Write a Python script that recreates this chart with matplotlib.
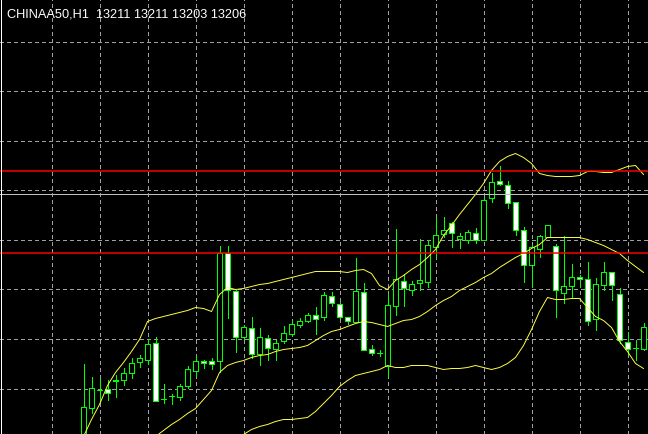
import numpy as np
import matplotlib
matplotlib.use("Agg")
import matplotlib.pyplot as plt

nan = np.nan

title = "CHINAA50,H1  13211 13211 13203 13206"

opens = [13080.5, 13099, 13108, 13108.5, 13112.5, 13113, 13116.5, 13122, 13123, 13131.5,
         13103.5, 13105, 13104.5, 13110, 13117.5, 13122.5, 13122.5, 13122.5, 13176.5, 13157.5,
         13134.5, 13139, 13126, 13134, 13128.5, 13132.5, 13136, 13140.5, 13142.5, 13145.5,
         13144.5, 13155, 13151, 13144.5, 13142, 13157, 13128.5, 13126.5, 13120, 13150,
         13162.5, 13158, 13161.5, 13162, 13179.5, 13186, 13191.5, 13183.5, 13183, 13186.5,
         13183, 13204, 13212.5, 13210.5, 13202, 13188, 13170.5, 13178.5, 13184.5, 13180,
         13156.5, 13160, 13164.5, 13163.5, 13143.5, 13160.5, 13167, 13156, 13132, 13129, 13128.5]

closes = [13099.5, 13109, 13108, 13106.5, 13113, 13116.5, 13121.5, 13124, 13131, 13102.5,
          13103.5, 13105, 13110, 13118.5, 13122.5, 13121.5, 13121, 13176.5, 13158, 13134.5,
          13139.5, 13126, 13134.5, 13129, 13131.5, 13136.5, 13141, 13142.5, 13145.5, 13143.5,
          13155.5, 13151.5, 13144.5, 13142.5, 13157.5, 13128, 13126.5, 13126.5, 13150.5, 13163.5,
          13159, 13161, 13163, 13180.5, 13185.5, 13188, 13186.5, 13185, 13187, 13183,
          13203, 13212, 13211, 13201.5, 13188, 13170.5, 13179.5, 13185, 13190.5, 13158,
          13160, 13164.5, 13163.5, 13142.5, 13161, 13167, 13160.5, 13133, 13128.5, 13129, 13139.5]

highs = [13121, 13114.5, 13113.5, 13113, 13115.5, 13119, 13124, 13125.5, 13133.5, 13134.5,
         13111, 13106, 13111, 13120, 13125, 13123, 13124, 13180, 13180, 13158,
         13140.5, 13144.5, 13139, 13135.5, 13133, 13140, 13142.5, 13144, 13146.5, 13149.5,
         13157, 13157, 13152, 13144.5, 13174, 13161.5, 13130.5, 13128, 13156.5, 13188.5,
         13166, 13162.5, 13183.5, 13183, 13194, 13194.5, 13192, 13186.5, 13188, 13189,
         13204.5, 13216.5, 13220, 13212.5, 13202, 13189.5, 13180.5, 13185.5, 13190.5, 13181,
         13185, 13171, 13165.5, 13172, 13164, 13172, 13167, 13159, 13137, 13133, 13141.5]

lows = [13077, 13096.5, 13102, 13103, 13104.5, 13110.5, 13114, 13119.5, 13121, 13102.5,
        13101.5, 13101, 13103, 13109, 13115, 13119, 13118.5, 13117, 13144, 13127,
        13133.5, 13124, 13120.5, 13123, 13123, 13131.5, 13135, 13139.5, 13142, 13136,
        13143, 13150, 13144, 13141, 13142, 13128, 13125.5, 13125, 13114.5, 13145.5,
        13150, 13155.5, 13158, 13159.5, 13174.5, 13184.5, 13179.5, 13179, 13181.5, 13181.5,
        13183, 13202, 13210.5, 13199, 13185.5, 13162, 13159.5, 13174.5, 13184.5, 13144.5,
        13151.5, 13154.5, 13159.5, 13140.5, 13138, 13158, 13153, 13131.5, 13125.5, 13123, 13128]

bb_upper = [13084.5, 13093, 13100.5, 13110, 13116.5, 13121.5, 13127, 13133, 13142, 13143.5,
            13144.5, 13145.5, 13146.5, 13147.5, 13149, 13148.5, 13147, 13155.5, 13159, 13158,
            13158.5, 13159.5, 13160.5, 13161, 13162, 13163, 13164, 13165, 13166, 13167,
            13167, 13167, 13167, 13166.5, 13167.5, 13168, 13166, 13160, 13158, 13162.5,
            13165, 13168, 13170.5, 13174, 13178, 13185, 13190, 13195.5, 13200.5, 13205.5,
            13211, 13217.5, 13222, 13224.5, 13226, 13224, 13221, 13216, 13215, 13214.5,
            13214.5, 13214.5, 13215, 13217, 13217, 13216.5, 13216.5, 13218, 13219.5, 13220, 13215.5]

bb_middle = [nan, nan, nan, nan, nan, nan, nan, 13079.5, 13082, 13084.5,
             13087.5, 13090.5, 13093, 13096, 13098.5, 13103, 13107.5, 13116.5, 13120, 13121.5,
             13122.5, 13124, 13125, 13125.5, 13127, 13128, 13128.5, 13129, 13130, 13132.5,
             13135, 13137, 13138, 13139.5, 13141, 13142, 13141.5, 13140.5, 13139.5, 13141,
             13142.5, 13143, 13144.5, 13147, 13150, 13152.5, 13154.5, 13157.5, 13159.5, 13161.5,
             13164, 13166, 13169, 13171.5, 13174, 13176, 13178.5, 13180.5, 13184, 13184,
             13184, 13184, 13184, 13183, 13181.5, 13180, 13178, 13176, 13172.5, 13169.5, 13166.5]

bb_lower = [nan, nan, nan, nan, nan, nan, nan, nan, nan, nan,
            nan, nan, nan, nan, nan, nan, nan, nan, nan, 13082.5,
            13085.5, 13088, 13089.5, 13090.5, 13092, 13093, 13093, 13093.5, 13094, 13097,
            13101, 13105, 13109.5, 13112.5, 13115, 13116, 13117, 13118, 13120, 13119,
            13119, 13120, 13120, 13120, 13119, 13118, 13118.5, 13118.5, 13119, 13120,
            13119, 13118, 13119, 13121, 13124, 13130, 13138, 13147, 13154, 13153,
            13153, 13153.5, 13153.5, 13149, 13144.5, 13142.5, 13139, 13132, 13127, 13121, 13118.5]

red_levels = [13217.5, 13176.5]
bid_level = 13206
grid_levels = [13282, 13257.5, 13232.5, 13208, 13183, 13158.5, 13133.5, 13108.5]

W, H = 648, 435
DPI = 100
fig = plt.figure(figsize=(W / DPI, H / DPI), dpi=DPI, facecolor="black")
ax = fig.add_axes([0, 0, 1, 1])
ax.set_facecolor("black")
for s in ax.spines.values():
    s.set_visible(False)
ax.set_xticks([])
ax.set_yticks([])

n = len(opens)
x = np.arange(n)
px_per_bar = 8.0
first_px = 83.5
ax.set_xlim(-first_px / px_per_bar, (W - first_px) / px_per_bar)
ax.set_ylim(13303.25 - H / 2.0, 13303.25)

onepx = 72.0 / DPI
grid_col = "#a0a0a0"
for lv in grid_levels:
    ax.axhline(lv, color=grid_col, lw=onepx, ls=(0, (4, 3)), zorder=1, antialiased=False)
for gx in range(-4, n, 6):
    ax.axvline(gx, color=grid_col, lw=onepx, ls=(0, (4, 3)), zorder=1, antialiased=False)

green = "#00ff00"
o = np.array(opens); c = np.array(closes)
hi = np.array(highs); lo = np.array(lows)
ax.vlines(x, lo, hi, color=green, lw=onepx, zorder=2, antialiased=False)
bottoms = np.minimum(o, c)
heights = np.abs(c - o)
faces = ["white" if cc < oo else "black" for oo, cc in zip(o, c)]
ax.bar(x, heights, bottom=bottoms, width=0.625, color=faces, edgecolor=green,
       linewidth=onepx, zorder=3, antialiased=False)

band_col = "#ffff40"
ax.plot(x, bb_upper, color=band_col, lw=0.7, zorder=4)
ax.plot(x, bb_middle, color=band_col, lw=0.7, zorder=4)
ax.plot(x, bb_lower, color=band_col, lw=0.7, zorder=4)

for lv in red_levels:
    ax.axhline(lv, color="#ff0000", lw=1.5 * onepx, zorder=5, antialiased=True)
ax.axhline(bid_level, color="#c0c0c0", lw=onepx, zorder=5, antialiased=False)

ax.axvline(-first_px / px_per_bar + 0.5 / px_per_bar, color="white", lw=onepx, zorder=6,
           antialiased=False)

fig.text(7 / W, 1 - 17.5 / H, title, color="white", fontsize=9.2,
         family="Liberation Sans", ha="left", va="baseline", zorder=7)

fig.savefig("out.png", dpi=DPI, facecolor="black")
